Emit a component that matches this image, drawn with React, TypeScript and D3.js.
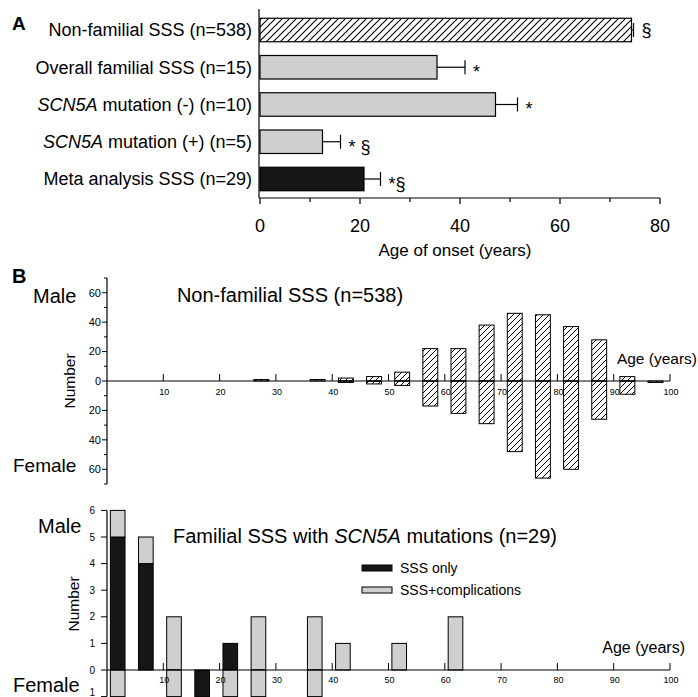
import React from 'react';
import * as d3 from 'd3';

// panel A: age of onset (mean +/- SEM)
const groups = [
  'Non-familial SSS (n=538)',
  'Overall familial SSS (n=15)',
  'SCN5A mutation (-) (n=10)',
  'SCN5A mutation (+) (n=5)',
  'Meta analysis SSS (n=29)',
];
const onsetMean = [74.3, 35.4, 47.1, 12.5, 20.8];
const onsetSem = [0.4, 5.6, 4.4, 3.6, 3.3];
const sigMarks = ['§', '*', '*', '* §', '*§'];

// panel B: 5-year age bins
const ageBins = [0, 5, 10, 15, 20, 25, 30, 35, 40, 45, 50, 55, 60, 65, 70, 75, 80, 85, 90, 95];
const nonFamMale = [0, 0, 0, 0, 0, 1, 0, 1, 2, 3, 6, 22, 22, 38, 46, 45, 37, 28, 3, 0];
const nonFamFemale = [0, 0, 0, 0, 0, 0, 0, 0, 1, 2, 3, 17, 22, 29, 48, 66, 60, 26, 9, 1];

const famBins = [0, 5, 10, 15, 20, 25, 30, 35, 40, 45, 50, 55, 60];
const famMaleOnly = [5, 4, 0, 0, 1, 0, 0, 0, 0, 0, 0, 0, 0];
const famMaleComp = [1, 1, 2, 0, 0, 2, 0, 2, 1, 0, 1, 0, 2];
const famFemaleOnly = [0, 0, 0, 1, 0, 0, 0, 0, 0, 0, 0, 0, 0];
const famFemaleComp = [1, 0, 1, 0, 1, 1, 0, 1, 0, 0, 0, 0, 0];

const xTicksA = [0, 20, 40, 60, 80];
const yTicksTop = [-60, -40, -20, 0, 20, 40, 60];
const yTicksBottom = [-1, 0, 1, 2, 3, 4, 5, 6];
const ageTicks = [10, 20, 30, 40, 50, 60, 70, 80, 90, 100];

const FONT = 'Liberation Sans, Arial, Helvetica, sans-serif';
const GRAY = '#cfcfcf';
const BLACK = '#161616';

function Label({ text, ...rest }: any) {
  // italicise the gene name
  if (text.startsWith('SCN5A')) {
    return (
      <text {...rest}>
        <tspan fontStyle="italic">SCN5A</tspan>
        <tspan>{text.slice(5)}</tspan>
      </text>
    );
  }
  return <text {...rest}>{text}</text>;
}

export default function App() {
  const xA = d3.scaleLinear().domain([0, 80]).range([260, 660]);
  const yA = d3.scalePoint<string>().domain(groups).range([30, 179]);
  const barH = 23.5;
  const axisYA = 198;

  const xB = d3.scaleLinear().domain([0, 100]).range([107, 670]);
  const yTop = d3.scaleLinear().domain([-70, 70]).range([484, 278]);
  const yBot = d3.scaleLinear().domain([-1, 6]).range([696.6, 510.4]);

  const fillA = (i: number) => (i === 0 ? 'url(#hatchA)' : i === groups.length - 1 ? BLACK : GRAY);

  return (
    <svg
      width={698}
      height={697}
      style={{ position: 'absolute', left: 0, top: 0, background: '#fff' }}
      fontFamily={FONT}
    >
      <defs>
        <pattern id="hatchA" patternUnits="userSpaceOnUse" width={7} height={7}>
          <path d="M0,7 L7,0 M-2,2 L2,-2 M5,9 L9,5" stroke="#000" strokeWidth={1.1} />
        </pattern>
        <pattern id="hatchB" patternUnits="userSpaceOnUse" width={6} height={6}>
          <path d="M0,6 L6,0 M-2,2 L2,-2 M4,8 L8,4" stroke="#000" strokeWidth={1} />
        </pattern>
      </defs>

      {/* ---------- panel A ---------- */}
      <text x={12} y={30} fontSize={19} fontWeight="bold">A</text>
      {groups.map((g, i) => {
        const cy = yA(g)!;
        const x1 = xA(onsetMean[i]);
        const x2 = xA(onsetMean[i] + onsetSem[i]);
        return (
          <g key={g}>
            <Label text={g} x={252} y={cy} dy="0.36em" fontSize={18} textAnchor="end" />
            <rect x={xA(0)} y={cy - barH / 2} width={x1 - xA(0)} height={barH}
              fill={fillA(i)} stroke="#000" strokeWidth={1.2} />
            <line x1={x1} x2={x2} y1={cy} y2={cy} stroke="#000" strokeWidth={1.2} />
            <line x1={x2} x2={x2} y1={cy - 7} y2={cy + 7} stroke="#000" strokeWidth={1.2} />
            <text x={x2 + 8} y={cy} dy={sigMarks[i].startsWith('*') ? '0.6em' : '0.36em'}
              fontSize={18}>{sigMarks[i]}</text>
          </g>
        );
      })}
      <line x1={xA(0) - 1} x2={xA(0) - 1} y1={9} y2={axisYA} stroke="#000" strokeWidth={1.2} />
      <line x1={xA(0) - 1} x2={xA(80)} y1={axisYA} y2={axisYA} stroke="#000" strokeWidth={1.2} />
      {d3.range(0, 81, 10).map((t) => (
        <line key={t} x1={xA(t)} x2={xA(t)} y1={axisYA} y2={axisYA + (t % 20 === 0 ? 6 : 4)}
          stroke="#000" strokeWidth={1.2} />
      ))}
      {xTicksA.map((t) => (
        <text key={t} x={xA(t)} y={232} fontSize={18} textAnchor="middle">{t}</text>
      ))}
      <text x={455} y={256} fontSize={17} textAnchor="middle">Age of onset (years)</text>

      {/* ---------- panel B, top ---------- */}
      <text x={12} y={283} fontSize={20} fontWeight="bold">B</text>
      <text x={33} y={303} fontSize={20}>Male</text>
      <text x={13} y={472} fontSize={19}>Female</text>
      <text transform={`translate(75,${yTop(0)}) rotate(-90)`} fontSize={15.5} textAnchor="middle">Number</text>
      <text x={290} y={302} fontSize={20} textAnchor="middle">Non-familial SSS (n=538)</text>

      {ageBins.map((b, i) => {
        const x0 = xB(b + 1.1);
        const w = xB(b + 3.75) - x0;
        return (
          <g key={b}>
            {nonFamMale[i] > 0 && (
              <rect x={x0} y={yTop(nonFamMale[i])} width={w} height={yTop(0) - yTop(nonFamMale[i])}
                fill="url(#hatchB)" stroke="#000" strokeWidth={1} />
            )}
            {nonFamFemale[i] > 0 && (
              <rect x={x0} y={yTop(0)} width={w} height={yTop(-nonFamFemale[i]) - yTop(0)}
                fill="url(#hatchB)" stroke="#000" strokeWidth={1} />
            )}
          </g>
        );
      })}

      <line x1={xB(0)} x2={xB(0)} y1={yTop(70)} y2={yTop(-70)} stroke="#000" strokeWidth={1.2} />
      {d3.range(-70, 71, 10).map((t) => (
        <line key={t} x1={xB(0) - (t % 20 === 0 ? 5 : 3)} x2={xB(0)} y1={yTop(t)} y2={yTop(t)}
          stroke="#000" strokeWidth={1} />
      ))}
      {yTicksTop.map((t) => (
        <text key={t} x={101} y={yTop(t)} dy="0.35em" fontSize={11} textAnchor="end">{Math.abs(t)}</text>
      ))}
      <line x1={xB(0)} x2={xB(100)} y1={yTop(0)} y2={yTop(0)} stroke="#000" strokeWidth={1.2} />
      {ageTicks.map((t) => (
        <g key={t}>
          <line x1={xB(t)} x2={xB(t)} y1={yTop(0)} y2={yTop(0) - 7} stroke="#000" strokeWidth={1} />
          <text x={xB(t) + 1} y={yTop(0) + 14} fontSize={9} textAnchor="middle">{t}</text>
        </g>
      ))}
      <text x={697} y={364} fontSize={15.5} textAnchor="end">Age (years)</text>

      {/* ---------- panel B, bottom ---------- */}
      <text x={38} y={533} fontSize={20}>Male</text>
      <text x={13} y={692} fontSize={20}>Female</text>
      <text transform={`translate(79,604) rotate(-90)`} fontSize={15.5} textAnchor="middle">Number</text>
      <text x={365} y={543} fontSize={20} textAnchor="middle">
        <tspan>Familial SSS with </tspan>
        <tspan fontStyle="italic">SCN5A</tspan>
        <tspan> mutations (n=29)</tspan>
      </text>

      {famBins.map((b, i) => {
        const x0 = xB(b + 0.6);
        const w = xB(b + 3.2) - x0;
        const mo = famMaleOnly[i];
        const mc = famMaleComp[i];
        const fo = famFemaleOnly[i];
        const fc = famFemaleComp[i];
        return (
          <g key={b}>
            {mo > 0 && (
              <rect x={x0} y={yBot(mo)} width={w} height={yBot(0) - yBot(mo)}
                fill={BLACK} stroke="#000" strokeWidth={1} />
            )}
            {mc > 0 && (
              <rect x={x0} y={yBot(mo + mc)} width={w} height={yBot(mo) - yBot(mo + mc)}
                fill={GRAY} stroke="#000" strokeWidth={1} />
            )}
            {fo > 0 && (
              <rect x={x0} y={yBot(0)} width={w} height={yBot(-fo) - yBot(0)}
                fill={BLACK} stroke="#000" strokeWidth={1} />
            )}
            {fc > 0 && (
              <rect x={x0} y={yBot(-fo)} width={w} height={yBot(-fo - fc) - yBot(-fo)}
                fill={GRAY} stroke="#000" strokeWidth={1} />
            )}
          </g>
        );
      })}

      <line x1={xB(0)} x2={xB(0)} y1={yBot(6)} y2={yBot(-1)} stroke="#000" strokeWidth={1.2} />
      {yTicksBottom.map((t) => (
        <g key={t}>
          <line x1={xB(0) - 6} x2={xB(0)} y1={yBot(t)} y2={yBot(t)} stroke="#000" strokeWidth={1} />
          <text x={95} y={Math.min(yBot(t), 692)} dy="0.35em" fontSize={10} textAnchor="end">{Math.abs(t)}</text>
        </g>
      ))}
      <line x1={xB(0)} x2={xB(100)} y1={yBot(0)} y2={yBot(0)} stroke="#000" strokeWidth={1.2} />
      {ageTicks.map((t) => (
        <g key={t}>
          <line x1={xB(t)} x2={xB(t)} y1={yBot(0)} y2={yBot(0) - 7} stroke="#000" strokeWidth={1} />
          <text x={xB(t) + 1} y={yBot(0) + 13} fontSize={9} textAnchor="middle">{t}</text>
        </g>
      ))}
      <text x={685} y={653} fontSize={16} textAnchor="end">Age (years)</text>

      {/* legend */}
      <rect x={362} y={565} width={30} height={6} fill={BLACK} stroke="#000" strokeWidth={1} />
      <text x={400} y={573} fontSize={14}>SSS only</text>
      <rect x={362} y={587} width={30} height={6} fill={GRAY} stroke="#000" strokeWidth={1} />
      <text x={400} y={595} fontSize={14}>SSS+complications</text>
    </svg>
  );
}
